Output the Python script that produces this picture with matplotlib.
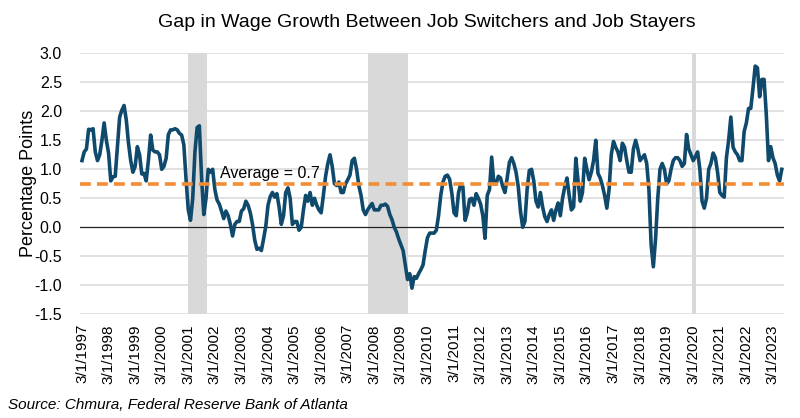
#!/usr/bin/env python3
import numpy as np
import matplotlib
matplotlib.use('Agg')
import matplotlib.pyplot as plt

# monthly gap (pp), 3-month moving average, starting 3/1997
START_YEAR = 1997
gap = [
    1.15, 1.3, 1.35, 1.69, 1.68, 1.7, 1.3, 1.15, 1.25, 1.5, 1.8, 1.5,
    1.28, 0.8, 0.87, 0.88, 1.4, 1.9, 2.02, 2.1, 1.85, 1.45, 1.15, 0.95,
    1.05, 1.39, 1.25, 0.92, 0.93, 0.8, 1.16, 1.59, 1.33, 1.3, 1.3, 1.25,
    1.0, 1.05, 1.19, 1.6, 1.68, 1.68, 1.7, 1.68, 1.62, 1.59, 1.42, 0.82,
    0.3, 0.12, 0.5, 1.3, 1.72, 1.75, 0.85, 0.22, 0.5, 1.0, 0.95, 1.0,
    0.65, 0.47, 0.4, 0.28, 0.15, 0.28, 0.2, 0.05, -0.15, 0.05, 0.1, 0.1,
    0.28, 0.32, 0.45, 0.38, 0.25, 0.05, -0.22, -0.38, -0.36, -0.4, -0.2, 0.02,
    0.38, 0.53, 0.6, 0.52, 0.58, 0.35, 0.05, 0.2, 0.6, 0.68, 0.5, 0.05,
    0.1, 0.1, -0.05, 0.0, 0.3, 0.55, 0.45, 0.6, 0.38, 0.5, 0.38, 0.3,
    0.25, 0.55, 0.88, 1.1, 1.25, 1.05, 0.75, 0.72, 0.78, 0.6, 0.6, 0.75,
    0.82, 0.9, 1.15, 1.19, 1.0, 0.72, 0.55, 0.3, 0.22, 0.3, 0.36, 0.41,
    0.3, 0.3, 0.3, 0.38, 0.38, 0.4, 0.36, 0.22, 0.13, 0.0, -0.08, -0.2,
    -0.3, -0.4, -0.65, -0.9, -0.8, -1.05, -0.85, -0.88, -0.8, -0.73, -0.65, -0.4,
    -0.18, -0.1, -0.1, -0.1, -0.05, 0.2, 0.55, 0.78, 0.88, 0.9, 0.83, 0.59,
    0.25, 0.2, 0.59, 0.75, 0.7, 0.12, 0.25, 0.48, 0.5, 0.38, 0.58, 0.5,
    0.4, 0.2, -0.19, 0.55, 0.65, 1.21, 0.75, 0.75, 0.88, 0.85, 0.7, 0.6,
    0.85, 1.12, 1.2, 1.1, 0.95, 0.7, 0.28, 0.0, 0.1, 0.65, 0.98, 1.0,
    0.8, 0.45, 0.35, 0.6, 0.35, 0.18, 0.1, 0.22, 0.3, 0.12, 0.3, 0.42,
    0.2, 0.5, 0.7, 0.85, 0.55, 0.3, 0.35, 1.19, 0.8, 0.45, 0.6, 1.19,
    1.0, 0.82, 0.95, 1.15, 1.5, 0.93, 0.85, 0.72, 0.55, 0.33, 0.65, 1.25,
    1.48, 1.38, 1.3, 1.15, 1.45, 1.38, 1.15, 0.95, 0.95, 1.35, 1.5, 1.35,
    1.15, 1.2, 1.25, 1.1, 0.65, -0.3, -0.68, -0.2, 0.5, 1.0, 1.1, 1.0,
    0.75, 0.8, 1.0, 1.15, 1.2, 1.2, 1.15, 1.05, 1.1, 1.6, 1.35, 1.25,
    1.15, 1.22, 1.3, 1.0, 0.45, 0.33, 0.5, 1.0, 1.1, 1.28, 1.2, 0.95,
    0.6, 0.55, 0.52, 1.2, 1.5, 1.9, 1.38, 1.3, 1.25, 1.15, 1.15, 1.65,
    1.8, 2.05, 2.05, 2.4, 2.78, 2.75, 2.25, 2.55, 2.55, 1.95, 1.15, 1.39,
    1.2, 1.1, 0.9, 0.8, 1.0,
]
average = 0.74
# recessions as (start, end) in months since 3/1997
recessions = [(48, 56.3), (129.3, 147), (275.3, 277.1)]
tick_years = list(range(1997, 2024))
y_ticks = [3.0, 2.5, 2.0, 1.5, 1.0, 0.5, 0.0, -0.5, -1.0, -1.5]

LINE_COLOR = '#0f4a6c'
AVG_COLOR = '#f28c35'
GRID_COLOR = '#d9d9d9'


def main():
    plt.rcParams['font.family'] = ['Liberation Sans', 'DejaVu Sans']
    plt.rcParams['axes.unicode_minus'] = False

    fig = plt.figure(figsize=(8.0, 4.18), dpi=100)
    ax = fig.add_axes([80 / 800, 1 - 314.3 / 418, 704 / 800, 261 / 418])

    months = np.arange(len(gap))
    for a, b in recessions:
        ax.axvspan(a, b, color=GRID_COLOR, lw=0, zorder=0)
    for y in y_ticks:
        if y != 0:
            ax.axhline(y, color=GRID_COLOR, lw=1.1, zorder=1)
    ax.axhline(0, color='#222222', lw=0.9, zorder=2)

    ax.plot(months, gap, color=LINE_COLOR, lw=2.6, solid_joinstyle='round', zorder=3)
    ax.axhline(average, color=AVG_COLOR, lw=2.6, dashes=(3.0, 1.7), zorder=4)
    ax.text(62.3, 0.79, 'Average = 0.7', fontsize=11.5, color='black',
            ha='left', va='bottom', zorder=5)

    ax.set_xlim(-0.9, 317)
    ax.set_ylim(-1.5, 3.0)
    ax.set_yticks(y_ticks)
    ax.set_yticklabels([f'{v:.1f}' for v in y_ticks], fontsize=11.5)
    ticks = [(y - START_YEAR) * 12 for y in tick_years]
    ax.set_xticks(ticks)
    ax.set_xticklabels([f'3/1/{y}' for y in tick_years], rotation=90, fontsize=11)
    ax.tick_params(length=0, pad=7)
    ax.tick_params(axis='y', pad=13)
    for s in ax.spines.values():
        s.set_visible(False)

    ax.set_ylabel('Percentage Points', fontsize=13, labelpad=-2)
    fig.text(0.534, 0.945, 'Gap in Wage Growth Between Job Switchers and Job Stayers',
             ha='center', va='center', fontsize=14)
    fig.text(0.01, 0.031, 'Source: Chmura, Federal Reserve Bank of Atlanta',
             ha='left', va='center', fontsize=11, style='italic')

    fig.savefig('out.png', dpi=100)
    plt.close(fig)


if __name__ == '__main__':
    main()
